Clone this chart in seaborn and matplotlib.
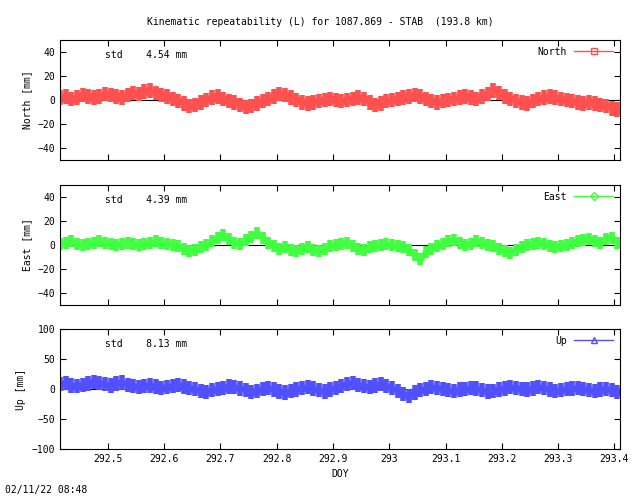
import numpy as np
import matplotlib
matplotlib.use("Agg")
import matplotlib.pyplot as plt
import seaborn as sns

t_start, t_step = 292.415, 0.01
north = [2,3,1,2,4,3,2,3,5,4,3,2,4,6,5,7,8,6,4,3,1,-1,-3,-5,-4,-2,0,2,3,1,-1,-2,-4,-6,-5,-3,-1,1,3,5,4,2,0,-2,-3,-2,-1,0,1,0,-1,0,1,2,1,-2,-4,-3,-1,0,1,2,3,4,3,1,-1,-2,-1,0,1,2,3,2,1,3,5,8,6,3,1,-1,-2,-3,-1,1,2,3,2,1,0,-1,-2,-3,-2,-3,-4,-5,-7,-8]
east = [1,2,3,1,0,1,2,3,2,1,0,1,2,1,0,1,2,3,2,1,0,-1,-3,-5,-4,-2,0,3,6,8,5,2,1,4,7,10,6,2,-1,-3,-2,-4,-5,-3,-2,-4,-5,-3,-1,0,1,2,-1,-3,-4,-2,-1,0,1,0,-1,-2,-4,-8,-12,-6,-3,-1,1,3,4,2,0,1,3,2,0,-1,-3,-5,-7,-4,-2,0,1,2,1,-1,-2,-1,0,2,3,4,5,3,2,5,6,2]
up = [8,10,6,5,7,9,12,10,8,6,9,11,7,5,3,5,6,4,2,3,5,7,4,2,0,-3,-5,-2,0,2,4,3,1,-2,-5,-3,0,2,-1,-4,-6,-3,-1,2,3,1,-2,-4,-1,2,5,8,10,7,5,3,6,8,5,2,-3,-8,-12,-6,-2,0,3,2,0,-2,-3,-1,0,2,1,-2,-4,-3,-1,1,3,2,0,-1,1,3,2,-1,-3,-2,0,1,2,0,-2,-3,-1,0,-2,-5]

series = [("North", north, "#ff5050", "s", (-50, 50), [-40,-20,0,20,40], 6, "4.54 mm"),
          ("East", east, "#40ff40", "D", (-50, 50), [-40,-20,0,20,40], 5, "4.39 mm"),
          ("Up", up, "#5050ff", "^", (-100, 100), [-100,-50,0,50,100], 12, "8.13 mm")]

plt.rcParams["font.family"] = "DejaVu Sans Mono"
plt.rcParams["font.size"] = 7
fig = plt.figure(figsize=(6.4, 4.96), dpi=100)
W, H = 640, 496
boxes = [(40, 160), (185, 305), (329, 449)]
for (name, vals, col, mk, ylim, yt, err, std), (y0, y1) in zip(series, boxes):
    ax = fig.add_axes([60/W, 1-y1/H, 560/W, (y1-y0)/H])
    t = t_start + t_step*np.arange(len(vals))
    ax.axhline(0, color="black", lw=0.8)
    ax.errorbar(t, vals, yerr=err, fmt="none", ecolor=col, elinewidth=4, capsize=0)
    sns.lineplot(x=t, y=vals, ax=ax, color=col, lw=4, marker=mk, ms=4, mfc="none", mec=col)
    ax.plot([], [], color=col, marker=mk, mfc="none", ms=4, lw=1, label=name)
    ax.set_xlim(292.415, 293.41)
    ax.set_ylim(*ylim)
    ax.set_yticks(yt)
    ax.set_xticks([292.5,292.6,292.7,292.8,292.9,293,293.1,293.2,293.3,293.4])
    ax.set_xticklabels(["292.5","292.6","292.7","292.8","292.9","293","293.1","293.2","293.3","293.4"] if name=="Up" else [])
    ax.tick_params(direction="in", top=True, right=True, length=4)
    ax.set_ylabel(f"{name} [mm]")
    ax.text(0.08, 0.92, f"std    {std}", transform=ax.transAxes, va="top")
    ax.legend(loc="upper right", frameon=False, markerfirst=False, handlelength=4, borderaxespad=0.3)
    if name == "Up":
        ax.set_xlabel("DOY")
fig.text(0.5, 1-22/H, "Kinematic repeatability (L) for 1087.869 - STAB  (193.8 km)", ha="center", va="center")
fig.text(5/W, 1-490/H, "02/11/22 08:48", va="center")
fig.savefig("out.png", dpi=100)
